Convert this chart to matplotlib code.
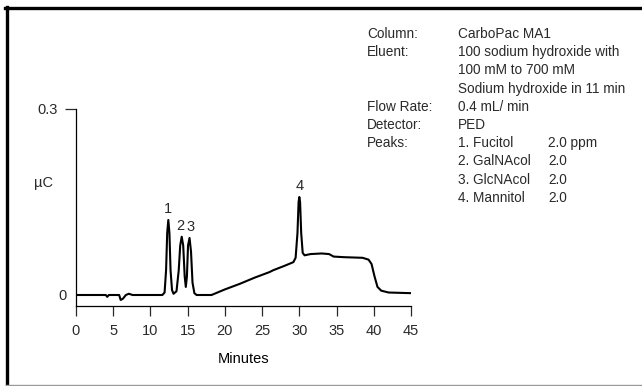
import matplotlib
matplotlib.use("Agg")
import matplotlib.pyplot as plt
import matplotlib.transforms as mtransforms
from matplotlib.lines import Line2D

W, H = 642, 386

# chromatogram trace, read point by point (minutes, µC)
minutes = [0.0, 4.0, 4.2, 4.4, 5.8, 6.0, 6.3, 6.7, 7.1, 7.6, 11.6, 11.9,
           12.1, 12.25, 12.4, 12.55, 12.7, 12.9, 13.1, 13.5, 13.8, 14.0,
           14.2, 14.4, 14.6, 14.75, 14.9, 15.05, 15.25, 15.45, 15.65, 15.9,
           16.2, 18.2, 19.0, 20.0, 22.0, 24.0, 26.0, 26.5, 28.0, 29.2, 29.5,
           29.75, 29.9, 30.0, 30.1, 30.25, 30.45, 30.7, 31.5, 33.0, 34.0,
           34.6, 36.0, 38.5, 39.3, 39.7, 40.1, 40.5, 41.0, 42.0, 44.9]
signal = [0.0, 0.0, -0.003, 0.0, 0.0, -0.008, -0.006, 0.0, 0.002, 0.0, 0.0,
          0.004, 0.04, 0.10, 0.121, 0.10, 0.04, 0.008, 0.002, 0.006, 0.04,
          0.08, 0.094, 0.08, 0.03, 0.013, 0.03, 0.08, 0.092, 0.07, 0.02,
          0.003, 0.0, 0.0, 0.004, 0.009, 0.018, 0.028, 0.037, 0.04, 0.047,
          0.053, 0.060, 0.10, 0.150, 0.158, 0.150, 0.10, 0.068, 0.064, 0.066,
          0.067, 0.066, 0.062, 0.061, 0.060, 0.057, 0.05, 0.03, 0.013, 0.007,
          0.004, 0.003]

peak_ids = ["1", "2", "3", "4"]
peak_times = [12.4, 14.0, 15.4, 30.0]
peak_heights = [0.121, 0.094, 0.092, 0.158]

x_ticks = [0, 5, 10, 15, 20, 25, 30, 35, 40, 45]
y_ticks = [0, 0.3]
y_ticklabels = ["0", "0.3"]

conditions = [
    ("Column:", "CarboPac MA1", ""),
    ("Eluent:", "100 sodium hydroxide with", ""),
    ("", "100 mM to 700 mM", ""),
    ("", "Sodium hydroxide in 11 min", ""),
    ("Flow Rate:", "0.4 mL/ min", ""),
    ("Detector:", "PED", ""),
    ("Peaks:", "1. Fucitol", "2.0 ppm"),
    ("", "2. GalNAcol", "2.0"),
    ("", "3. GlcNAcol", "2.0"),
    ("", "4. Mannitol", "2.0"),
]

plt.rcParams["font.family"] = ["Liberation Sans", "DejaVu Sans"]
plt.rcParams["font.size"] = 9.8
plt.rcParams["text.color"] = "#2a2a2a"

fig = plt.figure(figsize=(W / 100, H / 100), dpi=100)


def fx(px):
    return px / W


def fy(py):
    return 1 - py / H


# axes box in pixel terms
ax_left, ax_right, ax_top, ax_bottom = 76, 411, 109, 306
ax = fig.add_axes([fx(ax_left), fy(ax_bottom), fx(ax_right - ax_left),
                   (ax_bottom - ax_top) / H])
ymin = -11 / 620
ax.set_xlim(0, 45)
ax.set_ylim(ymin, 0.3)
ax.plot(minutes, signal, color="black", lw=1.5, solid_joinstyle="round")

for s in ["top", "right"]:
    ax.spines[s].set_visible(False)
ax.spines["left"].set_linewidth(0.9)
ax.spines["bottom"].set_linewidth(0.9)
ax.set_xticks(x_ticks)
ax.tick_params(axis="x", direction="out", length=7, width=0.9, pad=6,
               labelsize=10.5, colors="#2a2a2a")
ax.set_yticks(y_ticks)
ax.set_yticklabels(y_ticklabels)
ax.tick_params(axis="y", direction="out", length=8, width=0.9, pad=5,
               labelsize=10.5, colors="#2a2a2a")

# the zero level has no tick mark, its label sits closer to the axis
zero_tick = ax.yaxis.get_major_ticks()[0]
zero_tick.tick1line.set_visible(False)
shift = mtransforms.ScaledTranslation(6 / 72, 0, fig.dpi_scale_trans)
zero_tick.label1.set_transform(zero_tick.label1.get_transform() + shift)

ax.set_xlabel("Minutes", fontsize=10.5, labelpad=10)
fig.text(fx(44), fy(183), "µC", fontsize=10.5, ha="center", va="center")

for pid, t, h in zip(peak_ids, peak_times, peak_heights):
    ax.annotate(pid, (t, h), xytext=(0, 3), textcoords="offset points",
                ha="center", va="bottom", fontsize=10.5)

# conditions block
row_y = 34
for label, value, amount in conditions:
    fig.text(fx(367), fy(row_y), label, va="center", ha="left")
    fig.text(fx(458), fy(row_y), value, va="center", ha="left")
    if amount:
        fig.text(fx(548), fy(row_y), amount, va="center", ha="left")
    row_y += 18.2

# frame: heavy rule on the left and top, light rule along the bottom
fig.add_artist(Line2D([fx(6.5), fx(6.5)], [fy(7), fy(385)], lw=2.4,
                      color="black", transform=fig.transFigure))
fig.add_artist(Line2D([fx(5), fx(642)], [fy(8), fy(8)], lw=2.4,
                      color="black", transform=fig.transFigure))
fig.add_artist(Line2D([fx(6), fx(642)], [fy(384.5), fy(384.5)], lw=1.0,
                      color="#999999", transform=fig.transFigure))

fig.savefig("out.png", dpi=100)
